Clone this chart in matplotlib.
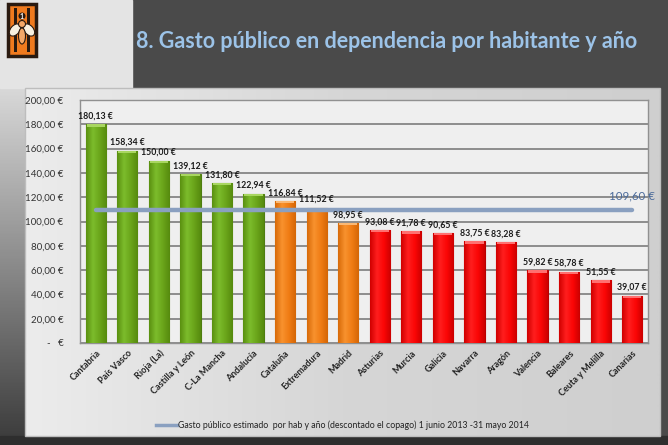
import matplotlib
matplotlib.use("Agg")
import matplotlib.pyplot as plt
import numpy as np
from matplotlib.patches import Rectangle, Ellipse
from matplotlib.colors import LinearSegmentedColormap

plt.rcParams['font.family'] = ['Lato', 'DejaVu Sans']

regions = ["Cantabria", "País Vasco", "Rioja (La)", "Castilla y León", "C-La Mancha",
           "Andalucía", "Cataluña", "Extremadura", "Madrid", "Asturias", "Murcia",
           "Galicia", "Navarra", "Aragón", "Valencia", "Baleares", "Ceuta y Melilla", "Canarias"]
values = [180.13, 158.34, 150.00, 139.12, 131.80, 122.94, 116.84, 111.52, 98.95,
          93.08, 91.78, 90.65, 83.75, 83.28, 59.82, 58.78, 51.55, 39.07]
groups = ["g"] * 6 + ["o"] * 3 + ["r"] * 9
average = 109.60
yticks = [0, 20, 40, 60, 80, 100, 120, 140, 160, 180, 200]
title = "8. Gasto público en dependencia por habitante y año"
legend_label = "Gasto público estimado  por hab y año (descontado el copago) 1 junio 2013 -31 mayo 2014"

edge = {"g": "#4e7d10", "o": "#c05e08", "r": "#b80000"}
grad_cols = {"g": ["#5a9010", "#7cbc2c", "#6aa51a", "#568a0e"],
             "o": ["#d86a08", "#f8922e", "#f07c14", "#d46606"],
             "r": ["#d00000", "#ff1e1e", "#fb0606", "#cc0000"]}
top_hl = {"g": "#a8d660", "o": "#fab874", "r": "#ff7070"}

def eur(v):
    return f"{v:,.2f} €".replace(",", "X").replace(".", ",").replace("X", ".")

W, H = 668, 445
fig = plt.figure(figsize=(W / 100, H / 100), dpi=100)
fig.patch.set_facecolor("#4a4a4a")

bg = fig.add_axes([0, 0, 1, 1])
bg.set_xlim(0, W)
bg.set_ylim(H, 0)
bg.axis("off")
grad = np.linspace(0, 1, 200).reshape(-1, 1)
cm_left = LinearSegmentedColormap.from_list("l", ["#d8d8d8", "#8a8a8a", "#3a3a3a"])
bg.imshow(grad, extent=(0, 40, 445, 88), cmap=cm_left, aspect="auto", zorder=0)
bg.add_patch(Rectangle((0, 0), 132, 88, color="#e4e4e4", zorder=1))
bg.add_patch(Rectangle((0, 436), W, 9, color="#2e2e2e", zorder=1))
cm_panel = LinearSegmentedColormap.from_list("p", ["#ececec", "#d6d6d6", "#cfcfcf"])
gradh = np.linspace(0, 1, 300).reshape(1, -1)
bg.imshow(gradh, extent=(25, 660, 436, 88), cmap=cm_panel, aspect="auto", zorder=2)
bg.add_patch(Rectangle((25, 88), 635, 348, fill=False, ec="#bdbdbd", lw=1, zorder=3))
# logo
bg.add_patch(Rectangle((8, 4), 28, 52, fc="#f07a1e", ec="#2a1a10", lw=2.5, zorder=4))
bg.add_patch(Rectangle((14, 8), 3, 44, fc="#2a1a10", zorder=5))
bg.add_patch(Rectangle((27, 8), 3, 44, fc="#2a1a10", zorder=5))
bg.add_patch(Ellipse((15, 30), 9, 14, angle=40, fc="#f8f0e0", ec="#2a1a10", lw=0.8, zorder=6))
bg.add_patch(Ellipse((29, 30), 9, 14, angle=-40, fc="#f8f0e0", ec="#2a1a10", lw=0.8, zorder=6))
bg.add_patch(Ellipse((22, 36), 7, 16, fc="#f4a868", ec="#2a1a10", lw=0.8, zorder=7))
bg.add_patch(Ellipse((22, 24), 7, 7, fc="#f4a868", ec="#2a1a10", lw=0.8, zorder=7))
bg.add_patch(Ellipse((22, 16), 7, 7, fc="#2a1a10", zorder=7))
bg.text(22, 16.5, "1", color="white", fontsize=5, ha="center", va="center", zorder=8, fontweight="bold")

fig.text(136 / W, 1 - 41 / H, title, color="#9cc3e8", fontsize=15.5, fontweight="bold",
         ha="left", va="center")

ax = fig.add_axes([80 / W, 1 - 343 / H, 568 / W, 243 / H])
ax.set_facecolor("#efefef")
x = np.arange(len(regions))
bar_w = 0.64
hgrad = np.linspace(0, 1, 64).reshape(1, -1)
for xi, v, g in zip(x, values, groups):
    bars = ax.bar(xi, v, width=bar_w, color=grad_cols[g][2], edgecolor=edge[g], linewidth=0.8, zorder=3)
    cm = LinearSegmentedColormap.from_list("b" + g, grad_cols[g])
    im = ax.imshow(hgrad, extent=(xi - bar_w / 2, xi + bar_w / 2, 0, v), cmap=cm,
                   aspect="auto", zorder=3.5)
    im.set_clip_path(bars[0])
    ax.bar(xi, 2.0, bottom=v - 2.0, width=bar_w * 0.9, color=top_hl[g], linewidth=0, zorder=4)
    ax.text(xi, v + 3, eur(v), ha="center", va="bottom", fontsize=6.3, fontweight="bold",
            color="#1a1a1a", zorder=6)

ax.plot(x, [average] * len(x), color="#8aa0c0", lw=3.2, solid_capstyle="round", zorder=5)
ax.text(1.012, average + 11.5, eur(average), transform=ax.get_yaxis_transform(), ha="right",
        va="center", fontsize=8.3, color="#4a6a9a", zorder=6)

ax.set_xlim(-0.5, len(regions) - 0.5)
ax.set_ylim(0, 200)
ax.set_yticks(yticks)
ax.set_yticklabels([eur(t) if t > 0 else "-   €" for t in yticks], fontsize=7, color="#333333")
ax.yaxis.grid(True, color="#858585", lw=1.3, zorder=1)
ax.set_axisbelow(True)
ax.tick_params(axis="y", length=0, pad=12)
ax.tick_params(axis="x", length=0, pad=4)
ax.set_xticks(x)
ax.set_xticklabels(regions, rotation=45, ha="right", rotation_mode="anchor", fontsize=6.5,
                   fontweight="bold", color="#222222")
for s in ax.spines.values():
    s.set_color("#909090")
    s.set_linewidth(1)

# legend
fig.add_artist(plt.Line2D([156 / W, 177 / W], [1 - 425 / H] * 2, color="#8aa0c0", lw=2.5))
fig.text(178 / W, 1 - 425 / H, legend_label, fontsize=6.3, color="#222222", ha="left", va="center")

fig.savefig("out.png", dpi=100, facecolor=fig.get_facecolor())
